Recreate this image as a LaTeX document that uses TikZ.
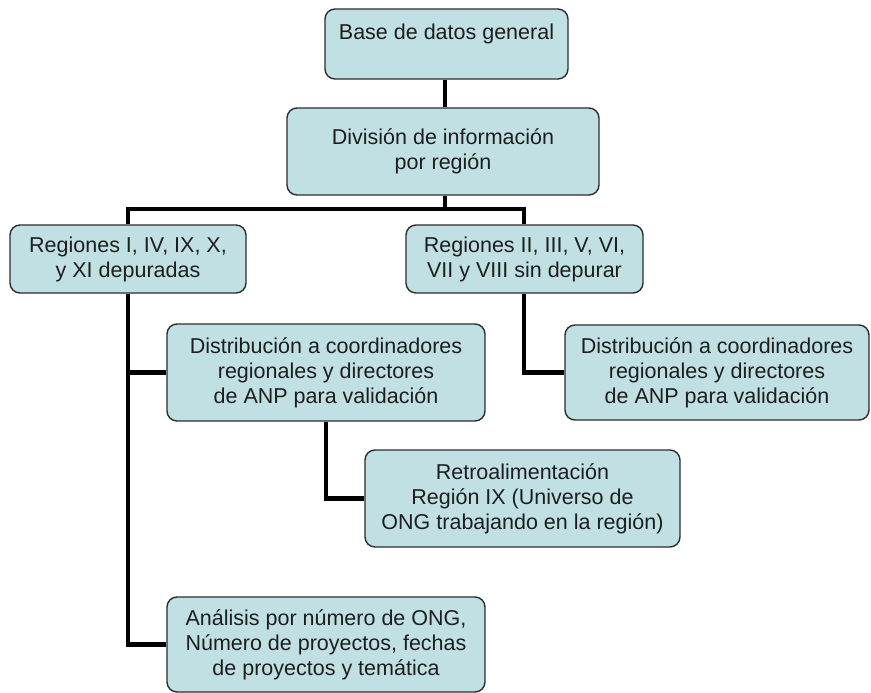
\documentclass[tikz,border=0pt]{standalone}
\usepackage{fontspec}
\setmainfont{Liberation Sans}
\definecolor{boxfill}{RGB}{192,224,228}
\definecolor{boxline}{RGB}{45,45,45}
\definecolor{txt}{RGB}{30,30,30}
\pgfdeclarelayer{bg}
\pgfsetlayers{bg,main}
\tikzset{
  flowbox/.style={draw=boxline, line width=1.4pt, fill=boxfill, rounded corners=10pt,
    inner sep=0pt, align=center, text=txt,
    font=\fontsize{21.5}{25}\selectfont},
  conn/.style={line width=4.5pt, black}
}
\begin{document}
\begin{tikzpicture}[x=1pt,y=-1pt]
\useasboundingbox (0,0) rectangle (871,693);
\node[flowbox, minimum width=243pt, minimum height=70pt] (b1) at (446.5,44) {Base de datos general\\\mbox{}};
\node[flowbox, minimum width=312pt, minimum height=87pt] (b2) at (443,151.5) {División de información\\por región};
\node[flowbox, minimum width=236pt, minimum height=68pt] (b3l) at (128,259) {Regiones I, IV, IX, X,\\y XI depuradas};
\node[flowbox, minimum width=237pt, minimum height=68pt] (b3r) at (524.5,259) {Regiones II, III, V, VI,\\VII y VIII sin depurar};
\node[flowbox, minimum width=318pt, minimum height=97pt] (d1) at (326,372.5) {Distribución a coordinadores\\regionales y directores\\de ANP para validación};
\node[flowbox, minimum width=304pt, minimum height=95pt] (d2) at (717,372.5) {Distribución a coordinadores\\regionales y directores\\de ANP para validación};
\node[flowbox, minimum width=315pt, minimum height=97pt] (r) at (522.5,498.5) {Retroalimentación\\Región IX (Universo de\\ONG trabajando en la región)};
\node[flowbox, minimum width=318pt, minimum height=95pt] (a) at (326,644.5) {Análisis por número de ONG,\\Número de proyectos, fechas\\de proyectos y temática};
\coordinate (split) at (445,209);
\coordinate (splitl) at (128,209);
\coordinate (splitr) at (524,209);
\begin{pgfonlayer}{bg}
\draw[conn] ([xshift=-1.5pt]b1.south) -- ([xshift=2pt]b2.north);
\draw[conn] ([xshift=2pt]b2.south) -- (split);
\draw[conn] (b3l.north) -- (splitl) -- (splitr) -- ([xshift=-0.5pt]b3r.north);
\draw[conn] (b3l.south) |- (a.west);
\draw[conn] (b3l.south) |- (d1.west);
\draw[conn] ([xshift=-0.5pt]b3r.south) |- (d2.west);
\draw[conn] (d1.south) |- (r.west);
\end{pgfonlayer}
\end{tikzpicture}
\end{document}
